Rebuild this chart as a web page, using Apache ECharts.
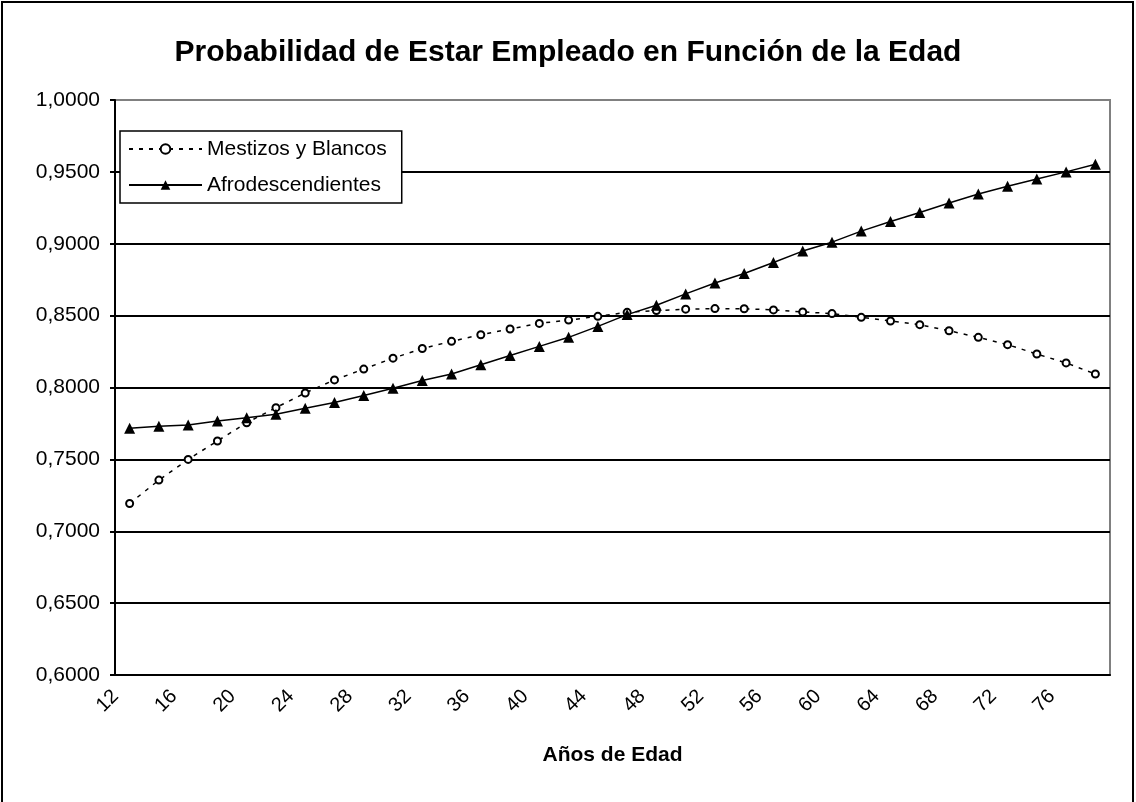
<!DOCTYPE html>
<html>
<head>
<meta charset="utf-8">
<style>
  html, body { margin: 0; padding: 0; background: #fff; }
  #chart { width: 1136px; height: 802px; }
</style>
<script src="https://cdn.jsdelivr.net/npm/echarts@6/dist/echarts.min.js"></script>
</head>
<body>
<div id="chart"></div>
<script>
// edades (cada categoría = 2 años)
var ages = ['12','14','16','18','20','22','24','26','28','30','32','34','36','38','40','42','44',
  '46','48','50','52','54','56','58','60','62','64','66','68','70','72','74','76','78']
var mestizos = [0.7193,0.7356,0.7500,0.7628,0.7755,0.7860,0.7962,0.8053,0.8128,0.8204,0.8271,
  0.8321,0.8367,0.8407,0.8446,0.8469,0.8495,0.8523,0.8535,0.8545,0.8549,0.8548,
  0.8540,0.8526,0.8514,0.8488,0.8463,0.8437,0.8395,0.8349,0.8298,0.8233,0.8171,0.8094]
var afro = [0.7716,0.7730,0.7739,0.7767,0.7790,0.7814,0.7856,0.7895,0.7944,0.7995,0.8048,
  0.8094,0.8158,0.8223,0.8286,0.8349,0.8425,0.8507,0.8572,0.8651,0.8727,0.8793,
  0.8870,0.8949,0.9011,0.9088,0.9155,0.9218,0.9283,0.9346,0.9400,0.9451,0.9500,0.9553]
var seriesNames = ['Mestizos y Blancos', 'Afrodescendientes']

var font = 'Arial, "Liberation Sans", sans-serif'
var chart = echarts.init(document.getElementById('chart'))
chart.setOption({
  animation: false,
  backgroundColor: '#fff',
  textStyle: { fontFamily: font },
  title: {
    text: 'Probabilidad de Estar Empleado en Función de la Edad',
    left: 'center',
    top: 33,
    textStyle: { fontSize: 30, fontWeight: 'bold', color: '#000', fontFamily: font }
  },
  graphic: [{
    type: 'rect',
    shape: { x: 2, y: 2, width: 1131, height: 900 },
    style: { fill: 'none', stroke: '#000', lineWidth: 2 },
    silent: true
  }],
  legend: {
    orient: 'vertical',
    left: 120,
    top: 131,
    padding: [7, 15, 7, 8],
    itemGap: 14,
    itemWidth: 73,
    itemHeight: 12,
    backgroundColor: '#fff',
    borderColor: '#000',
    borderWidth: 1.5,
    textStyle: { fontSize: 21, color: '#000', lineHeight: 22, fontFamily: font },
    data: seriesNames
  },
  grid: {
    left: 115,
    right: 26,
    top: 100,
    bottom: 127,
    show: true,
    borderColor: '#808080',
    borderWidth: 2,
    containLabel: false
  },
  xAxis: {
    type: 'category',
    data: ages,
    boundaryGap: true,
    name: 'Años de Edad',
    nameLocation: 'middle',
    nameGap: 70,
    nameTextStyle: { fontSize: 21, fontWeight: 'bold', color: '#000', fontFamily: font },
    axisLine: { lineStyle: { color: '#000', width: 2 } },
    axisTick: { interval: 0, length: 5, lineStyle: { color: '#000', width: 2 } },
    axisLabel: {
      interval: 1,
      rotate: 45,
      margin: 4,
      padding: [0, 20, 0, 0],
      fontSize: 20,
      color: '#000',
      fontFamily: font
    },
    splitLine: { show: false }
  },
  yAxis: {
    type: 'value',
    min: 0.6,
    max: 1.0,
    interval: 0.05,
    axisLine: { show: true, lineStyle: { color: '#000', width: 2 } },
    axisTick: { show: true, length: 5, lineStyle: { color: '#000', width: 2 } },
    axisLabel: {
      margin: 15,
      fontSize: 21,
      color: '#000',
      fontFamily: font,
      formatter: function (v) { return v.toFixed(4).replace('.', ',') }
    },
    splitLine: { show: true, showMaxLine: false, lineStyle: { color: '#000', width: 2 } }
  },
  series: [
    {
      name: seriesNames[0],
      type: 'line',
      data: mestizos,
      symbol: 'emptyCircle',
      symbolSize: 7,
      lineStyle: { color: '#000', width: 1.5, type: [4, 6] },
      itemStyle: { color: '#000', borderColor: '#000', borderWidth: 1.5 }
    },
    {
      name: seriesNames[1],
      type: 'line',
      data: afro,
      symbol: 'triangle',
      symbolSize: 11,
      lineStyle: { color: '#000', width: 1.5 },
      itemStyle: { color: '#000' }
    }
  ]
})
</script>
</body>
</html>
